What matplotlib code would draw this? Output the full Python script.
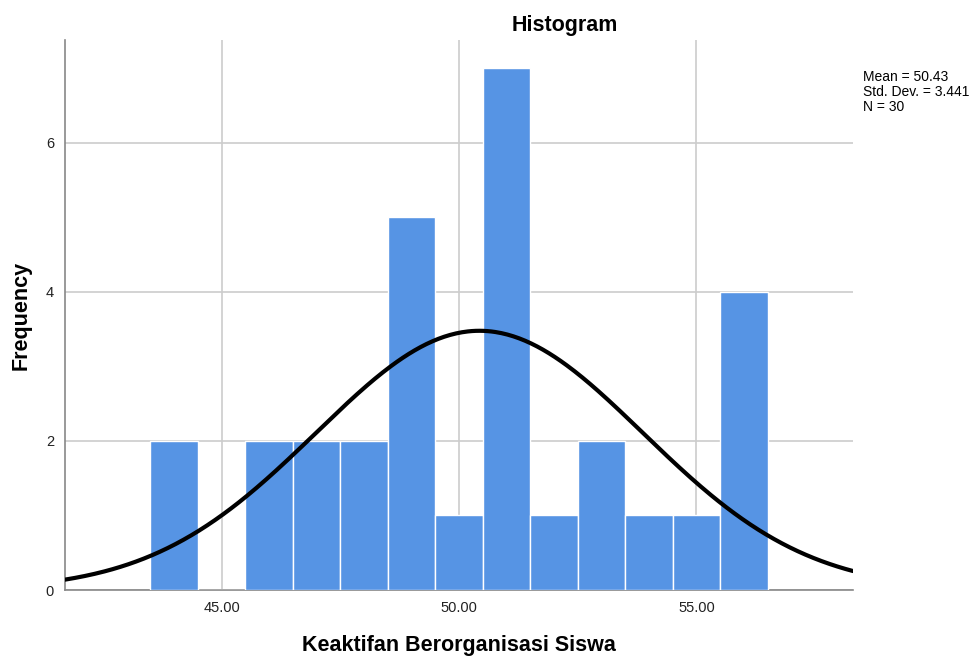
import numpy as np
import matplotlib
matplotlib.use("Agg")
import matplotlib.pyplot as plt

bin_centers = [44, 45, 46, 47, 48, 49, 50, 51, 52, 53, 54, 55, 56]
frequencies = [2, 0, 2, 2, 2, 5, 1, 7, 1, 2, 1, 1, 4]
mean_val = 50.43
std_val = 3.441
n_val = 30
bin_width = 1.0
x_ticks = [45, 50, 55]
x_tick_labels = ["45.00", "50.00", "55.00"]
y_ticks = [0, 2, 4, 6]

plt.rcParams['font.family'] = ['Liberation Sans', 'DejaVu Sans']

fig = plt.figure(figsize=(9.78, 6.58), dpi=100)
ax = fig.add_axes([65/978, 1-590/658, (853-65)/978, (590-40)/658])

ax.bar(bin_centers, frequencies, width=bin_width, color='#5694E4',
       edgecolor='white', linewidth=1.0, zorder=3)

xs = np.linspace(41.7, 58.3, 400)
ys = n_val * bin_width / (std_val * np.sqrt(2*np.pi)) * np.exp(-0.5*((xs-mean_val)/std_val)**2)
ax.plot(xs, ys, color='black', linewidth=3, zorder=4, solid_capstyle='round')

ax.set_xlim(41.7, 58.3)
ax.set_ylim(0, 7.38)
ax.set_xticks(x_ticks)
ax.set_xticklabels(x_tick_labels)
ax.set_yticks(y_ticks)
ax.tick_params(length=0, labelsize=10.5, colors='#222222', pad=8)
ax.grid(True, color='#cccccc', linewidth=1.2, zorder=0)
ax.set_axisbelow(True)
for s in ['top', 'right']:
    ax.spines[s].set_visible(False)
for s in ['left', 'bottom']:
    ax.spines[s].set_color('#888888')
    ax.spines[s].set_linewidth(1.2)

ax.set_xlabel("Keaktifan Berorganisasi Siswa", fontsize=15.5, fontweight='bold', labelpad=14)
ax.set_ylabel("Frequency", fontsize=15.5, fontweight='bold', labelpad=10)

fig.text(565/978, 1-25/658, "Histogram", ha='center', va='center', fontsize=15.5, fontweight='bold')
fig.text(863/978, 1-70/658, f"Mean = {mean_val:.2f}\nStd. Dev. = {std_val:.3f}\nN = {n_val}",
         ha='left', va='top', fontsize=10, linespacing=1.1)

fig.savefig("out.png", dpi=100)
